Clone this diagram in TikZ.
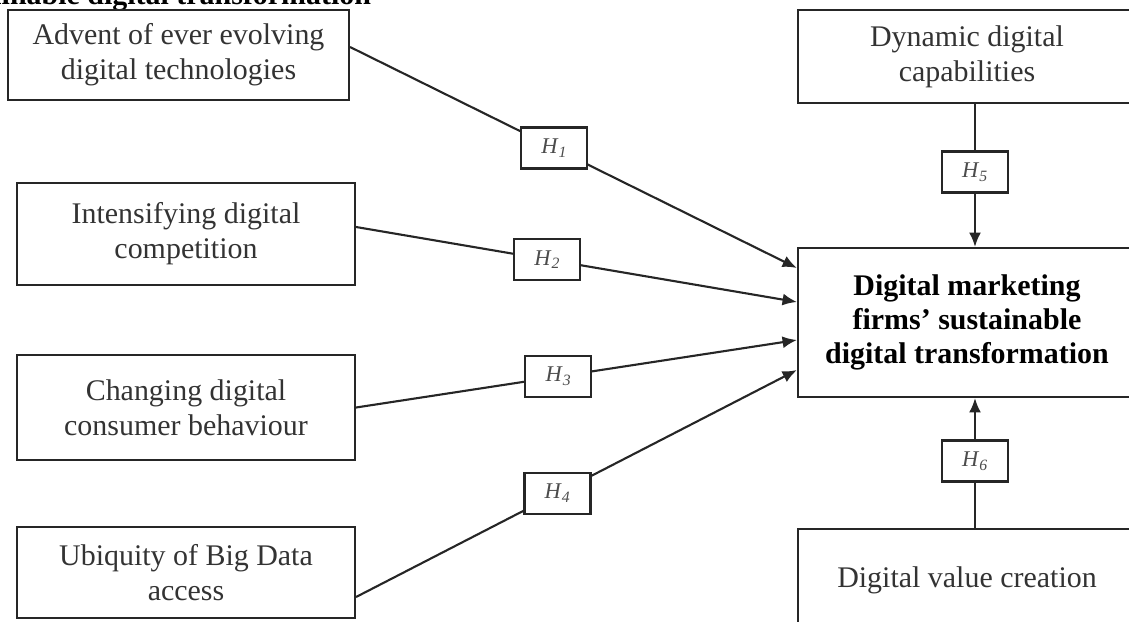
\documentclass[tikz,border=0pt]{standalone}
\usepackage{fontspec}
\setmainfont{Liberation Serif}
\usetikzlibrary{positioning, arrows.meta, calc}

\newcommand{\hyp}[1]{\textit{H}\textsubscript{\textit{#1}}}

\tikzset{
  factor/.style={draw=black!85, line width=1.5pt, align=center, inner sep=0pt,
    font=\fontsize{21.3}{25}\selectfont, text=black!80},
  hbox/.style={draw=black!85, fill=white, line width=1.5pt, minimum width=1.65cm,
    minimum height=1.025cm, inner sep=0pt, font=\fontsize{16}{18}\selectfont, text=black!70},
  link/.style={draw=black!85, line width=1.5pt},
  tip/.style={link, -{Latex[length=0.36cm, width=0.3cm]}},
}

\begin{document}
\begin{tikzpicture}
        \useasboundingbox (0,0) rectangle (28.225,-15.525);
        \clip (0,0) rectangle (28.225,-15.525);

        % caption line, cut by the top edge
        \node[anchor=base east, font=\bfseries\fontsize{21.3}{25}\selectfont] (title)
          at (9.4,-0.1) {sustainable digital transformation};

        % drivers on the left
        \node[factor, minimum width=8.525cm, minimum height=2.25cm] (A1) at (4.4625, -1.375)
          {Advent of ever evolving\\digital technologies};
        \node[factor, minimum width=8.45cm, minimum height=2.55cm] (A2) at (4.65, -5.85)
          {Intensifying digital\\competition};
        \node[factor, minimum width=8.45cm, minimum height=2.625cm] (A3) at (4.65, -10.1875)
          {Changing digital\\consumer behaviour};
        \node[factor, minimum width=8.45cm, minimum height=2.275cm] (A4) at (4.65, -14.3125)
          {Ubiquity of Big Data\\access};

        % right column
        \node[factor, minimum width=8.45cm, minimum height=2.325cm] (D) at (24.175, -1.4125)
          {Dynamic digital\\capabilities};
        \node[factor, minimum width=8.45cm, minimum height=3.725cm, text=black,
          font=\bfseries\fontsize{21.3}{24}\selectfont] (M) at (24.175, -8.0625)
          {Digital marketing\\firms' sustainable\\digital transformation};
        \node[factor, minimum width=8.45cm, minimum height=2.55cm] (V) at (24.175, -14.5)
          {Digital value creation};

        \coordinate (m1) at ([yshift=1.3625cm]M.west);
        \coordinate (m2) at ([yshift=0.5125cm]M.west);
        \coordinate (m3) at ([yshift=-0.4375cm]M.west);
        \coordinate (m4) at ([yshift=-1.1875cm]M.west);

        \draw[tip] ([yshift=0.2cm]A1.east) to node[hbox, pos=0.457] (H1) {\hyp{1}} (m1);
        \draw[tip] ([yshift=0.175cm]A2.east) to node[hbox, pos=0.434] (H2) {\hyp{2}} (m2);
        \draw[tip] (A3.east) to node[hbox, pos=0.459] (H3) {\hyp{3}} (m3);
        \draw[tip] ([yshift=-0.6125cm]A4.east) to node[hbox, pos=0.457] (H4) {\hyp{4}} (m4);

        \node[hbox] (H5) at (24.375, -4.3) {\hyp{5}};
        \node[hbox] (H6) at (24.375, -11.525) {\hyp{6}};

        \draw[link] (D.south -| H5) -- (H5);
        \draw[tip] (H5) -- (M.north -| H5);
        \draw[link] (V.north -| H6) -- (H6);
        \draw[tip] (H6) -- (M.south -| H6);
      \end{tikzpicture}
\end{document}
